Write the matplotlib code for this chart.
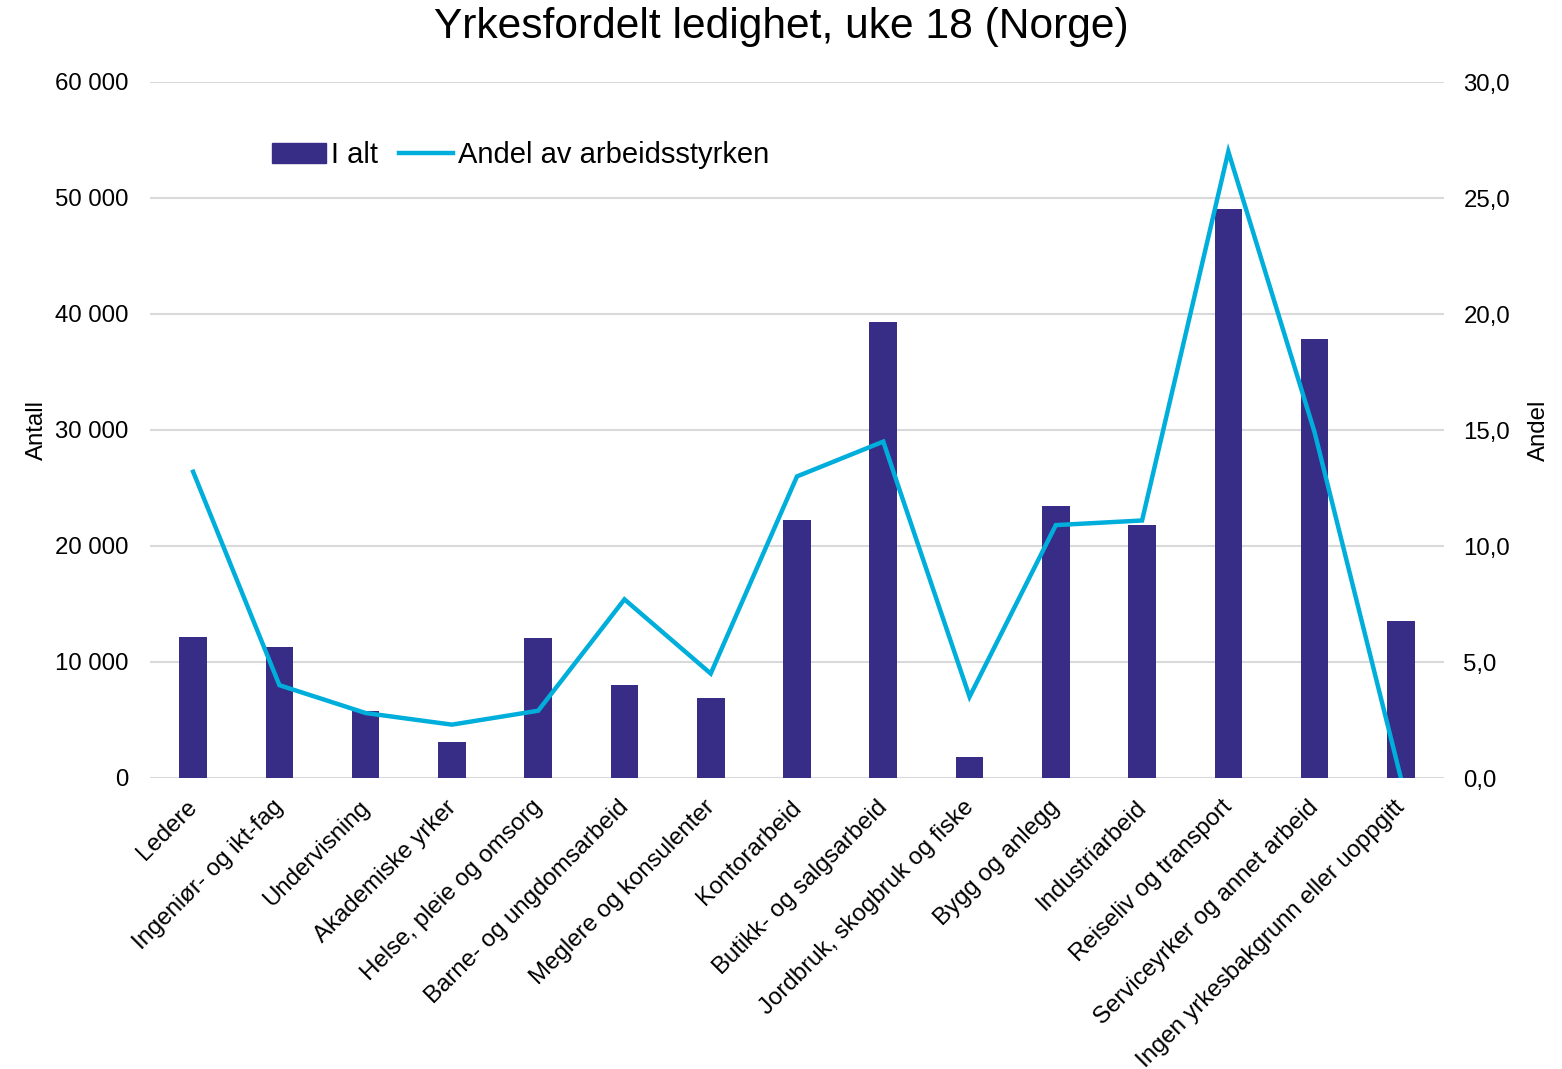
import matplotlib
matplotlib.use("Agg")
import matplotlib.pyplot as plt
import matplotlib.transforms as mtransforms
from matplotlib.ticker import FuncFormatter, MultipleLocator
from matplotlib.patches import Patch
from matplotlib.lines import Line2D

plt.rcParams['font.family'] = ['Liberation Sans', 'DejaVu Sans']

categories = ["Ledere", "Ingeniør- og ikt-fag", "Undervisning", "Akademiske yrker",
              "Helse, pleie og omsorg", "Barne- og ungdomsarbeid", "Meglere og konsulenter",
              "Kontorarbeid", "Butikk- og salgsarbeid", "Jordbruk, skogbruk og fiske",
              "Bygg og anlegg", "Industriarbeid", "Reiseliv og transport",
              "Serviceyrker og annet arbeid", "Ingen yrkesbakgrunn eller uoppgitt"]
i_alt = [12150, 11300, 5800, 3100, 12070, 8020, 6900, 22240, 39310, 1810,
         23450, 21810, 49050, 37840, 13530]
andel = [13.2, 4.0, 2.8, 2.3, 2.9, 7.7, 4.5, 13.0, 14.5, 3.5,
         10.9, 11.1, 27.0, 14.9, 0.0]

bar_color = "#372C86"
line_color = "#00AEDB"
grid_color = "#D9D9D9"
fs = 17.3

fig = plt.figure(figsize=(15.62, 10.69), dpi=100)
ax = fig.add_axes([150/1562, 1-778/1069, (1444-150)/1562, (778-82)/1069])
ax2 = ax.twinx()

x = list(range(len(categories)))
ax.bar(x, i_alt, width=0.32, color=bar_color, zorder=2)
ax2.plot(x, andel, color=line_color, linewidth=3.2, zorder=3, solid_joinstyle='miter')

ax.set_xlim(-0.5, len(categories) - 0.5)
ax.set_ylim(0, 60000)
ax2.set_ylim(0, 30)
ax.yaxis.set_major_locator(MultipleLocator(10000))
ax2.yaxis.set_major_locator(MultipleLocator(5))
ax.yaxis.set_major_formatter(FuncFormatter(lambda v, p: f"{int(v):,}".replace(",", " ")))
ax2.yaxis.set_major_formatter(FuncFormatter(lambda v, p: f"{v:.1f}".replace(".", ",")))

ax.grid(axis='y', color=grid_color, linewidth=1.5, zorder=0)
ax.set_axisbelow(True)
for a in (ax, ax2):
    for s in a.spines.values():
        s.set_visible(False)
    a.tick_params(length=0, labelsize=fs)
ax.tick_params(axis='y', pad=15.5)
ax2.tick_params(axis='y', pad=14)
ax.tick_params(axis='x', pad=11)

ax.set_xticks(x)
ax.set_xticklabels(categories, rotation=45, ha='right', rotation_mode='anchor', fontsize=17.3)
offset = mtransforms.ScaledTranslation(-7/100, -3/100, fig.dpi_scale_trans)
for lbl in ax.get_xticklabels():
    lbl.set_transform(lbl.get_transform() + offset)

ax.set_ylabel("Antall", fontsize=fs, labelpad=5)
ax2.set_ylabel("Andel", fontsize=fs, labelpad=12.5)

fig.suptitle("Yrkesfordelt ledighet, uke 18 (Norge)", fontsize=30.6, y=0.993, va='top')

handles = [Patch(color=bar_color), Line2D([0], [0], color=line_color, linewidth=3.2)]
fig.legend(handles, ["I alt", "Andel av arbeidsstyrken"], loc='center left',
           bbox_to_anchor=(252/1562, 1-155/1069), ncol=2, frameon=False, fontsize=21,
           handlelength=1.85, handletextpad=0.17, columnspacing=0.7, borderpad=0.2)

fig.savefig("out.png", dpi=100)
